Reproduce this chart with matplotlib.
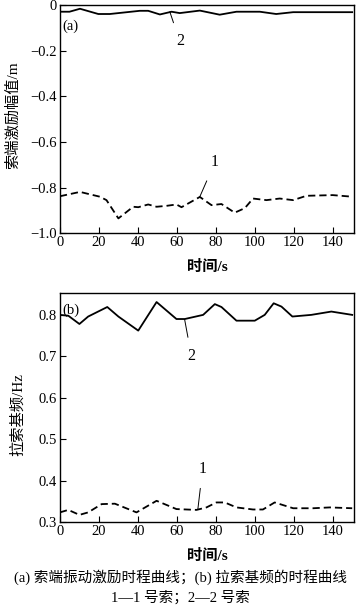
import matplotlib.pyplot as plt

plt.rcParams['font.family'] = ['Liberation Serif', 'Noto Sans CJK SC']
plt.rcParams['axes.unicode_minus'] = True

# (a) cable-end excitation amplitude, m
t_a2 = [0, 4.9, 10.3, 19.7, 25.6, 41, 45.3, 51.3, 57.3, 61.5, 71.8, 82, 90.6, 102.6, 111, 119.7, 150]
amp2 = [-0.03, -0.03, -0.017, -0.04, -0.04, -0.026, -0.026, -0.042, -0.03, -0.036, -0.025, -0.043,
        -0.03, -0.03, -0.04, -0.032, -0.032]
t_a1 = [0, 10.3, 20.5, 23.9, 30, 37.6, 40.2, 45.3, 49.6, 54.7, 59.8, 62.4, 71.8, 77.8, 82.9, 89.7,
        94.9, 99.1, 106, 112.8, 119.7, 126.5, 140, 150]
amp1 = [-0.838, -0.819, -0.84, -0.855, -0.935, -0.884, -0.886, -0.874, -0.884, -0.88, -0.874, -0.886,
        -0.841, -0.877, -0.872, -0.91, -0.89, -0.848, -0.855, -0.848, -0.855, -0.836, -0.833, -0.84]

# (b) cable fundamental frequency, Hz
t_b2 = [0, 4.3, 10, 14.5, 24.3, 30, 40.2, 49.6, 59.8, 64.1, 73.5, 79.5, 82.9, 90.6, 100, 105.1,
        109.7, 113.7, 119.3, 129, 139.3, 150]
freq2 = [0.8, 0.798, 0.778, 0.796, 0.819, 0.796, 0.762, 0.831, 0.79, 0.79, 0.8, 0.826, 0.819, 0.786,
         0.786, 0.8, 0.828, 0.82, 0.796, 0.8, 0.808, 0.8]
t_b1 = [0, 4.3, 10, 14.5, 21.4, 28.2, 39.3, 49.6, 59.8, 70.1, 75.2, 80.3, 84.6, 90.6, 99.1, 104.2,
        110.2, 119.7, 129.9, 138.5, 150]
freq1 = [0.323, 0.329, 0.317, 0.323, 0.343, 0.344, 0.323, 0.351, 0.331, 0.329, 0.335, 0.347, 0.347,
         0.335, 0.33, 0.33, 0.347, 0.333, 0.333, 0.335, 0.333]

fig = plt.figure(figsize=(3.61, 6.09), dpi=100)
ax1 = fig.add_axes([0.166, 0.617, 0.815, 0.375])
ax2 = fig.add_axes([0.166, 0.143, 0.815, 0.376])

dash = (0, (4, 2.2))
ax1.plot(t_a2, amp2, color='black', lw=1.3)
ax1.plot(t_a1, amp1, color='black', lw=1.3, linestyle=dash)
ax2.plot(t_b2, freq2, color='black', lw=1.3)
ax2.plot(t_b1, freq1, color='black', lw=1.3, linestyle=dash)

ax1.set_xlim(0, 151)
ax1.set_ylim(-1.0, 0)
ax1.set_yticks([-1.0, -0.8, -0.6, -0.4, -0.2, 0])
ax1.set_yticklabels(['\u22121.0', '\u22120.8', '\u22120.6', '\u22120.4', '\u22120.2', '0'])
ax2.set_xlim(0, 151)
ax2.set_ylim(0.3, 0.853)
ax2.set_yticks([0.3, 0.4, 0.5, 0.6, 0.7, 0.8])

for ax in (ax1, ax2):
    ax.set_xticks(range(0, 141, 20))
    ax.tick_params(direction='in', length=4, width=0.8, labelsize=10.5, pad=2)
    for s in ax.spines.values():
        s.set_linewidth(1.0)
    ax.set_xlabel('时间/s', fontsize=11, fontweight='bold', labelpad=8)

ax1.set_ylabel('索端激励幅值/m', fontsize=11)
ax1.yaxis.set_label_coords(-0.136, 0.517)
ax2.set_ylabel('拉索基频/Hz', fontsize=11)
ax2.yaxis.set_label_coords(-0.119, 0.467)

ax1.text(0.01, 0.89, '(a)', transform=ax1.transAxes, fontsize=10.5)
ax2.text(0.01, 0.91, '(b)', transform=ax2.transAxes, fontsize=10.5)

# curve labels with leader lines
ax1.annotate('2', xy=(56.4, -0.03), xytext=(61.5, -0.16), fontsize=11.5, ha='center', va='center',
             arrowprops=dict(arrowstyle='-', lw=0.7, color='black', shrinkA=6, shrinkB=0))
ax1.annotate('1', xy=(71.8, -0.84), xytext=(79.5, -0.69), fontsize=11.5, ha='center', va='center',
             arrowprops=dict(arrowstyle='-', lw=0.7, color='black', shrinkA=6, shrinkB=0))
ax2.annotate('2', xy=(64, 0.789), xytext=(67.5, 0.70), fontsize=11.5, ha='center', va='center',
             arrowprops=dict(arrowstyle='-', lw=0.7, color='black', shrinkA=6, shrinkB=0))
ax2.annotate('1', xy=(70.8, 0.331), xytext=(73.2, 0.427), fontsize=11.5, ha='center', va='center',
             arrowprops=dict(arrowstyle='-', lw=0.7, color='black', shrinkA=6, shrinkB=0))

fig.text(0.5, 1 - 577 / 609, '(a) 索端振动激励时程曲线；(b) 拉索基频的时程曲线', fontsize=10.5,
         ha='center', va='center')
fig.text(0.5, 1 - 598 / 609, '1—1 号索；2—2 号索', fontsize=10.5, ha='center', va='center')

fig.savefig('out.png', dpi=100)
